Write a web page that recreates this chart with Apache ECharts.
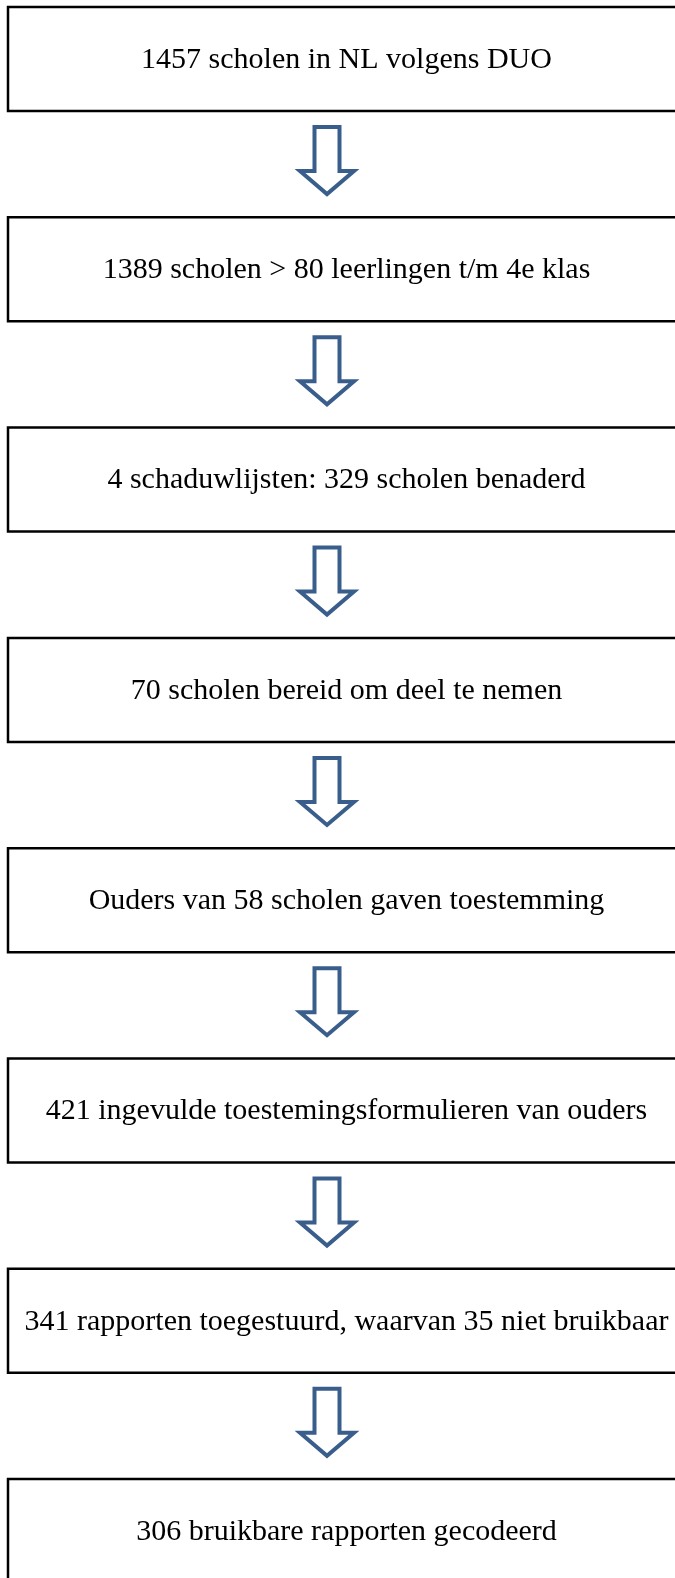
<!DOCTYPE html>
<html>
<head>
<meta charset="utf-8">
<script src="https://cdn.jsdelivr.net/npm/echarts@6/dist/echarts.min.js"></script>
<style>
  html, body { margin: 0; padding: 0; background: #ffffff; }
  #chart { width: 675px; height: 1578px; }
</style>
</head>
<body>
<div id="chart"></div>
<script>
// Flow steps (top to bottom)
const stepLabels = [
  '1457 scholen in NL volgens DUO',
  '1389 scholen > 80 leerlingen t/m 4e klas',
  '4 schaduwlijsten: 329 scholen benaderd',
  '70 scholen bereid om deel te nemen',
  'Ouders van 58 scholen gaven toestemming',
  '421 ingevulde toestemingsformulieren van ouders',
  '341 rapporten toegestuurd, waarvan 35 niet bruikbaar',
  '306 bruikbare rapporten gecodeerd'
];
const stepIndex = [0, 1, 2, 3, 4, 5, 6, 7];

const chart = echarts.init(document.getElementById('chart'), null, { renderer: 'canvas' });

const BOX_HALF_PX = 52;
const ARROW_COLOR = '#3A5E8C';

function renderItem(params, api) {
  const k = api.value(0);
  const cy = api.coord([0, k])[1];
  const left = api.coord([8, k])[0];
  const textX = api.coord([346.5, k])[0];
  const arrowX = api.coord([327, k])[0];
  const children = [
    {
      type: 'rect',
      shape: { x: left, y: cy - BOX_HALF_PX, width: 690, height: BOX_HALF_PX * 2 },
      style: { fill: '#ffffff', stroke: '#000000', lineWidth: 2.5 }
    },
    {
      type: 'text',
      style: {
        text: stepLabels[params.dataIndex],
        x: textX,
        y: cy + 1,
        align: 'center',
        verticalAlign: 'middle',
        font: '30px "Liberation Serif", "Times New Roman", serif',
        fill: '#000000'
      }
    }
  ];
  if (params.dataIndex < stepIndex.length - 1) {
    const yB = cy + BOX_HALF_PX;
    const t = yB + 16, s = yB + 60, tip = yB + 83;
    const sh = 12.5, hh = 27;
    children.push({
      type: 'polygon',
      shape: {
        points: [
          [arrowX - sh, t], [arrowX + sh, t], [arrowX + sh, s],
          [arrowX + hh, s], [arrowX, tip], [arrowX - hh, s], [arrowX - sh, s]
        ]
      },
      style: { fill: '#ffffff', stroke: ARROW_COLOR, lineWidth: 4, lineJoin: 'miter' }
    });
  }
  return { type: 'group', children };
}

chart.setOption({
  animation: false,
  backgroundColor: '#ffffff',
  grid: { left: 0, right: 0, top: 0, bottom: 0 },
  xAxis: { type: 'value', min: 0, max: 675, show: false },
  yAxis: { type: 'value', inverse: true, min: -59 / 210.3, max: (1578 - 59) / 210.3, show: false },
  series: [{
    type: 'custom',
    renderItem: renderItem,
    clip: false,
    data: stepIndex.map(function (k) { return [k]; })
  }]
});
</script>
</body>
</html>
